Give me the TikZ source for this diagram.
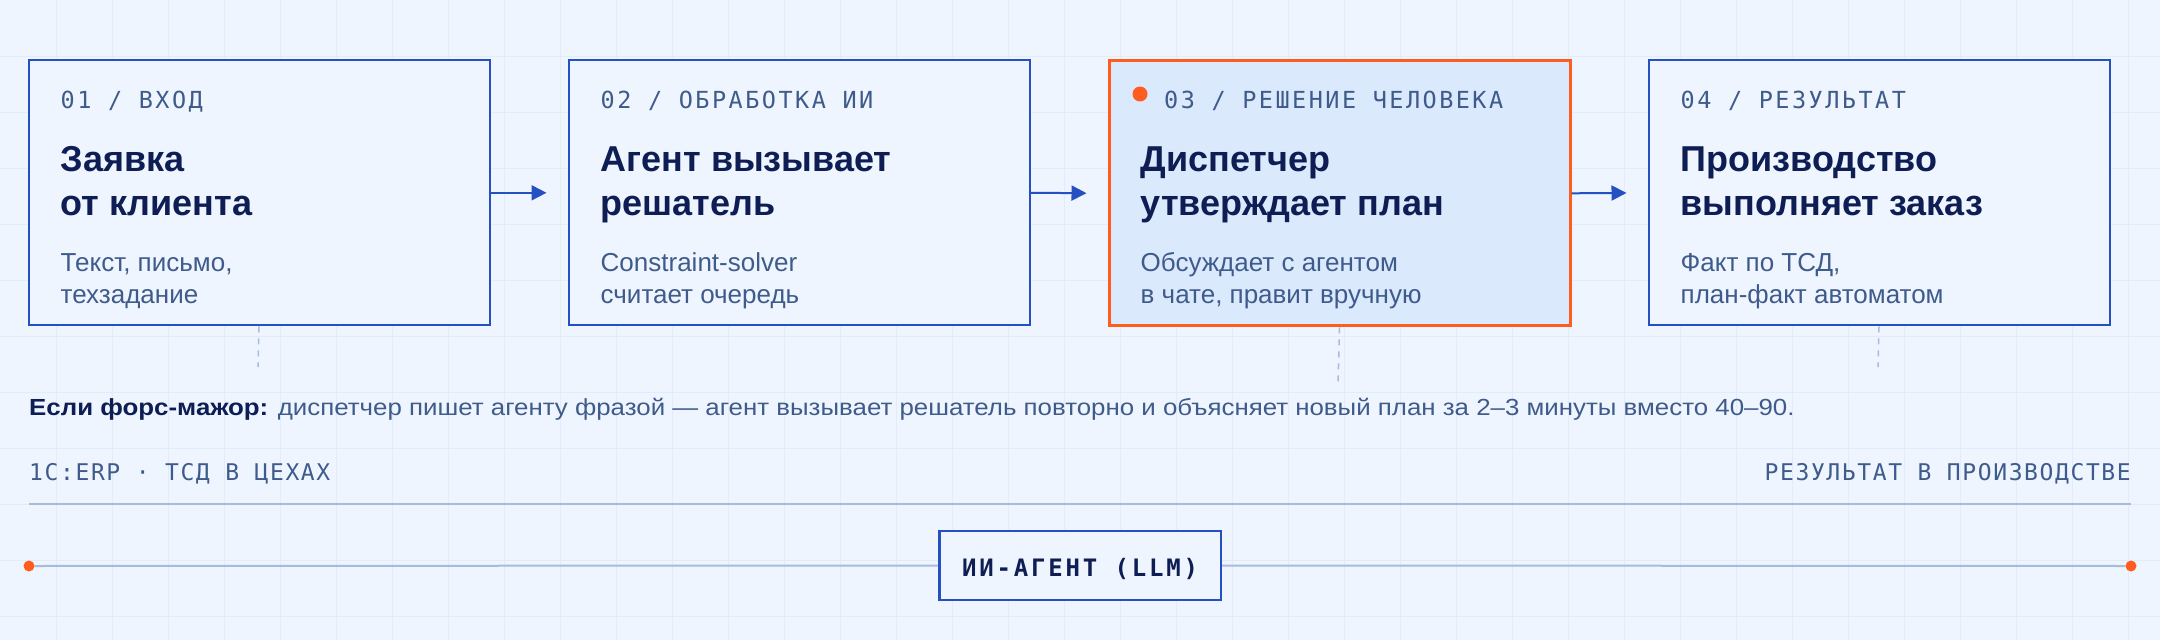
\documentclass[tikz,border=0pt]{standalone}
\usepackage{fontspec}
\setmainfont{Liberation Sans}
\newfontfamily\monof{DejaVu Sans Mono}
\usetikzlibrary{arrows.meta}
\definecolor{bg}{HTML}{EEF5FE}
\definecolor{gridc}{HTML}{E2ECF9}
\definecolor{blueb}{HTML}{2450C2}
\definecolor{navy}{HTML}{0E1E55}
\definecolor{slate}{HTML}{3F5B8C}
\definecolor{pale}{HTML}{A5BCE0}
\definecolor{orng}{HTML}{FF5C1F}
\definecolor{hl}{HTML}{DBE9FD}
\tikzset{
  card/.style={draw=blueb, line width=2pt, fill=bg, minimum width=461pt, minimum height=265pt, anchor=north west, inner sep=0pt},
  hicard/.style={card, draw=orng, line width=3pt, fill=hl},
  lab/.style={anchor=base west, inner sep=0pt, text=slate, font=\monof\fontsize{23.5}{28}\selectfont\addfontfeature{LetterSpace=10.5}},
  ttl/.style={anchor=base west, inner sep=0pt, text=navy, font=\fontsize{36}{43}\selectfont\bfseries},
  subt/.style={anchor=base west, inner sep=0pt, text=slate, font=\fontsize{26}{31}\selectfont},
  foot/.style={inner sep=0pt, text=slate, font=\monof\fontsize{23}{27}\selectfont\addfontfeature{LetterSpace=7}},
  flow/.style={draw=blueb, line width=2pt, -{Triangle[length=15pt,width=15pt]}, shorten >=21pt},
  drop/.style={draw=pale, line width=1.5pt, dash pattern=on 6pt off 6pt},
  gridline/.style={draw=gridc, line width=1pt},
  rule/.style={draw=pale, line width=2pt},
  odot/.style={circle, fill=orng, inner sep=0pt, minimum size=11pt},
}
\begin{document}
\begin{tikzpicture}[x=1pt,y=-1pt]
\useasboundingbox (0,0) rectangle (2160,640);
\fill[bg] (0,0) rectangle (2160,640);
\foreach \i in {56,112,...,2128} \draw[gridline] (\i,0) -- (\i,640);
\foreach \j in {56,112,...,616} \draw[gridline] (0,\j) -- (2160,\j);

% cards
\node[card] (c1) at (27.5,59.3) {};
\node[card] (c2) at (567.5,59.3) {};
\node[hicard] (c3) at (1107.5,59.3) {};
\node[card] (c4) at (1647.5,59.3) {};

% card 1
\node[lab] (l1) at (60.5,108.8) {01 / ВХОД};
\node[ttl] (t1a) at (60.5,171.7) {Заявка};
\node[ttl] (t1b) at (60.5,215) {от клиента};
\node[subt] (s1a) at (60.5,271.7) {Текст, письмо,};
\node[subt] (s1b) at (60.5,303.3) {техзадание};

% card 2
\node[lab] (l2) at (600.5,108.8) {02 / ОБРАБОТКА ИИ};
\node[ttl] (t2a) at (600.5,171.7) {Агент вызывает};
\node[ttl] (t2b) at (600.5,215) {решатель};
\node[subt] (s2a) at (600.5,271.7) {Constraint-solver};
\node[subt] (s2b) at (600.5,303.3) {считает очередь};

% card 3
\node[odot, minimum size=15pt] (hdot) at (1140,94) {};
\node[lab] (l3) at (1164,108.8) {03 / РЕШЕНИЕ ЧЕЛОВЕКА};
\node[ttl] (t3a) at (1140.5,171.7) {Диспетчер};
\node[ttl] (t3b) at (1140.5,215) {утверждает план};
\node[subt] (s3a) at (1140.5,271.7) {Обсуждает с агентом};
\node[subt] (s3b) at (1140.5,303.3) {в чате, правит вручную};

% card 4
\node[lab] (l4) at (1680.5,108.8) {04 / РЕЗУЛЬТАТ};
\node[ttl] (t4a) at (1680.5,171.7) {Производство};
\node[ttl] (t4b) at (1680.5,215) {выполняет заказ};
\node[subt] (s4a) at (1680.5,271.7) {Факт по ТСД,};
\node[subt] (s4b) at (1680.5,303.3) {план-факт автоматом};

% arrows
\draw[flow] (c1.east) -- (c2.west);
\draw[flow] (c2.east) -- (c3.west);
\draw[flow] (c3.east) -- (c4.west);

% drops
\coordinate (d1) at (258,367);
\coordinate (d3) at (1338,385);
\coordinate (d4) at (1878,367);
\draw[drop] (c1.south) -- (d1);
\draw[drop] (c3.south) -- (d3);
\draw[drop] (c4.south) -- (d4);

% force majeure
\node[anchor=base west, inner sep=0pt, text=slate, font=\fontsize{23.3}{28}\selectfont\addfontfeature{FakeStretch=1.11}] (fm) at (29,415)
  {\textcolor{navy}{\bfseries Если форс-мажор:} диспетчер пишет агенту фразой — агент вызывает решатель повторно и объясняет новый план за 2–3 минуты вместо 40–90.};

% footer labels
\node[foot, anchor=base west] (fl) at (29,480) {1C:ERP · ТСД В ЦЕХАХ};
\node[foot, anchor=base east] (fr) at (2131,480) {РЕЗУЛЬТАТ В ПРОИЗВОДСТВЕ};
\coordinate (rl) at (29,504);
\coordinate (rr) at (2131,504);
\draw[rule] (rl) -- (rr);

% agent bar
\node[draw=blueb, line width=2.5pt, fill=bg, minimum width=281.5pt, minimum height=69pt, inner sep=0pt,
  text height=22.4pt, text depth=0pt, text=navy,
  font=\monof\fontsize{24}{28}\selectfont\bfseries\addfontfeature{LetterSpace=11.7}] (llm) at (1080,565.5) {ИИ-АГЕНТ (LLM)};
\node[odot] (dl) at (29,566) {};
\node[odot] (dr) at (2131,566) {};
\draw[rule] (dl) -- (llm.west);
\draw[rule] (llm.east) -- (dr);
\end{tikzpicture}
\end{document}
